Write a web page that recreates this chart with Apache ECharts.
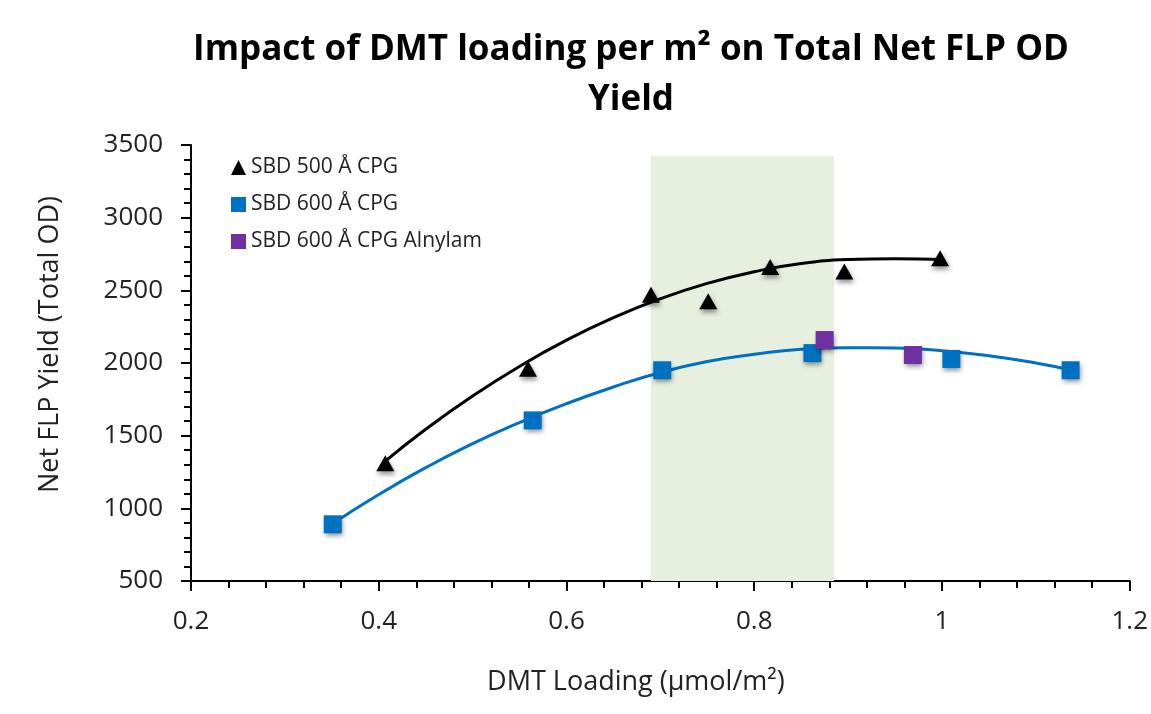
<!DOCTYPE html>
<html><head><meta charset="utf-8">
<script src="https://cdn.jsdelivr.net/npm/echarts@6/dist/echarts.min.js"></script>
<style>html,body{margin:0;padding:0;background:#fff}#c{width:1151px;height:714px}</style>
</head><body><div id="c"></div>
<script>
// Data
const sbd500X = [0.407, 0.559, 0.690, 0.751, 0.817, 0.896, 0.998];
const sbd500Y = [1310, 1960, 2470, 2425, 2660, 2630, 2720];
const sbd600X = [0.351, 0.564, 0.702, 0.862, 1.010, 1.137];
const sbd600Y = [890, 1605, 1950, 2068, 2028, 1950];
const alnylamX = [0.875, 0.969];
const alnylamY = [2158, 2055];
// Trendlines
const trend500X = [0.407, 0.45, 0.5, 0.55, 0.6, 0.65, 0.7, 0.75, 0.8, 0.85, 0.9, 0.95, 1.0];
const trend500Y = [1325, 1544, 1773, 1977, 2157, 2312, 2442, 2548, 2628, 2685, 2712, 2718, 2712];
const trend600X = [0.351, 0.4, 0.45, 0.5, 0.55, 0.6, 0.65, 0.7, 0.75, 0.8, 0.85, 0.9, 0.95, 1.0, 1.05, 1.1, 1.137];
const trend600Y = [895, 1095, 1280, 1445, 1590, 1720, 1835, 1935, 2010, 2060, 2095, 2105, 2103, 2085, 2050, 2000, 1952];
const bandX = [0.69, 0.885];
const bandY = [500, 3425];
const seriesNames = ['SBD 500 Å CPG', 'SBD 600 Å CPG', 'SBD 600 Å CPG Alnylam'];

const zip = (xs, ys) => xs.map((x, i) => [x, ys[i]]);
const font = 'Open Sans';
const shadow = {opacity: 1, shadowBlur: 5, shadowColor: 'rgba(0,0,0,0.45)', shadowOffsetX: 1, shadowOffsetY: 3};

const chart = echarts.init(document.getElementById('c'));
chart.setOption({
  animation: false,
  title: {
    text: 'Impact of DMT loading per m² on Total Net FLP OD\nYield',
    left: 626, top: 20, textAlign: 'center',
    textStyle: {fontFamily: font, fontWeight: 'bold', fontSize: 35, lineHeight: 50, color: '#000'}
  },
  legend: {
    data: [
      {name: seriesNames[0], icon: 'triangle', itemStyle: {opacity: 1}},
      {name: seriesNames[1], icon: 'rect', itemStyle: {opacity: 1}},
      {name: seriesNames[2], icon: 'rect', itemStyle: {opacity: 1}}
    ],
    orient: 'vertical', left: 231, top: 157, itemGap: 16, itemWidth: 15, itemHeight: 15, padding: 0,
    textStyle: {fontFamily: font, fontSize: 21, lineHeight: 20, color: '#222'}
  },
  grid: {left: 191, right: 21, top: 145, bottom: 133},
  xAxis: {
    type: 'value', min: 0.2, max: 1.2, interval: 0.2,
    name: 'DMT Loading (µmol/m²)', nameLocation: 'middle', nameGap: 88,
    nameTextStyle: {fontFamily: font, fontSize: 27, color: '#222', padding: [0, 49, 0, 0]},
    axisLine: {lineStyle: {color: '#000', width: 2}},
    axisTick: {show: true, length: 10, lineStyle: {color: '#000', width: 2}},
    minorTick: {show: true, splitNumber: 5, length: 7, lineStyle: {color: '#000', width: 2}},
    splitLine: {show: false},
    axisLabel: {fontFamily: font, fontSize: 26, color: '#222', margin: 28,
      formatter: v => String(Math.round(v * 10) / 10)}
  },
  yAxis: {
    type: 'value', min: 500, max: 3500, interval: 500,
    name: 'Net FLP Yield (Total OD)', nameLocation: 'middle', nameGap: 127,
    nameTextStyle: {fontFamily: font, fontSize: 27, color: '#222', padding: [0, 0, 0, 37]},
    axisLine: {show: true, lineStyle: {color: '#000', width: 2}},
    axisTick: {show: true, length: 10, lineStyle: {color: '#000', width: 2}},
    minorTick: {show: true, splitNumber: 5, length: 7, lineStyle: {color: '#000', width: 2}},
    splitLine: {show: false},
    axisLabel: {fontFamily: font, fontSize: 26, color: '#222', margin: 28, formatter: v => String(v)}
  },
  series: [
    {
      name: 'band', type: 'line', data: [], silent: true,
      markArea: {silent: true, itemStyle: {color: '#E7F0DF', opacity: 1},
        data: [[{xAxis: bandX[0], yAxis: bandY[0]}, {xAxis: bandX[1], yAxis: bandY[1]}]]}
    },
    {
      name: 'trend500', type: 'line', data: zip(trend500X, trend500Y), smooth: true,
      showSymbol: false, lineStyle: {color: '#000', width: 3}, z: 2
    },
    {
      name: 'trend600', type: 'line', data: zip(trend600X, trend600Y), smooth: true,
      showSymbol: false, lineStyle: {color: '#0070C0', width: 3}, z: 2
    },
    {
      name: seriesNames[0], type: 'scatter', data: zip(sbd500X, sbd500Y),
      symbol: 'triangle', symbolSize: [18, 16], itemStyle: Object.assign({color: '#000'}, shadow), z: 3
    },
    {
      name: seriesNames[1], type: 'scatter', data: zip(sbd600X, sbd600Y),
      symbol: 'rect', symbolSize: 18, itemStyle: Object.assign({color: '#0070C0'}, shadow), z: 3
    },
    {
      name: seriesNames[2], type: 'scatter', data: zip(alnylamX, alnylamY),
      symbol: 'rect', symbolSize: 18, itemStyle: Object.assign({color: '#7030A0'}, shadow), z: 3
    }
  ]
});
</script></body></html>
